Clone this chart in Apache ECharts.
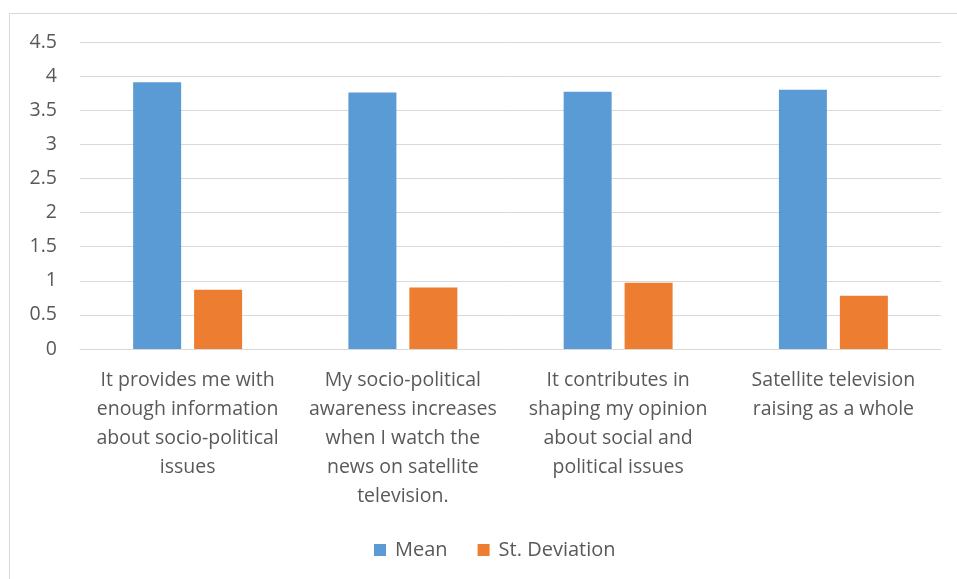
<!DOCTYPE html>
<html>
<head>
<meta charset="utf-8">
<script src="https://cdn.jsdelivr.net/npm/echarts@6/dist/echarts.min.js"></script>
<style>
  html, body { margin: 0; padding: 0; background: #ffffff; }
  #chart { width: 957px; height: 579px; }
</style>
</head>
<body>
<div id="chart"></div>
<script>
// Survey statements (line breaks as they wrap under each group)
const categories = [
  'It provides me with\nenough information\nabout socio-political\nissues',
  'My socio-political\nawareness increases\nwhen I watch the\nnews on satellite\ntelevision.',
  'It contributes in\nshaping my opinion\nabout social and\npolitical issues',
  'Satellite television\nraising as a whole'
];
const meanValues = [3.91, 3.76, 3.77, 3.80];
const stdValues = [0.87, 0.90, 0.97, 0.78];
const seriesNames = ['Mean', 'St. Deviation'];

const FONT = '"Open Sans", "Noto Sans", sans-serif';
const TEXT = '#595959';

const chart = echarts.init(document.getElementById('chart'), null, { renderer: 'canvas' });
chart.setOption({
  animation: false,
  backgroundColor: '#ffffff',
  graphic: [{
    type: 'rect',
    shape: { x: 9.5, y: 13.5, width: 1000, height: 1000 },
    style: { fill: 'none', stroke: '#d9d9d9', lineWidth: 1 },
    silent: true,
    z: -1
  }],
  grid: { left: 80, right: 16, top: 42, bottom: 230, containLabel: false },
  legend: {
    bottom: 14,
    left: 369,
    itemWidth: 12,
    itemHeight: 12,
    itemGap: 30,
    icon: 'rect',
    textStyle: { color: TEXT, fontSize: 20, fontFamily: FONT, padding: [0, 0, 0, 4] },
    data: seriesNames
  },
  xAxis: {
    type: 'category',
    data: categories,
    axisLine: { show: true, lineStyle: { color: '#d9d9d9', width: 1 } },
    axisTick: { show: false },
    axisLabel: {
      interval: 0,
      margin: 17,
      color: TEXT,
      fontSize: 19.5,
      lineHeight: 29,
      fontFamily: FONT,
      align: 'center'
    }
  },
  yAxis: {
    type: 'value',
    min: 0,
    max: 4.5,
    interval: 0.5,
    axisLine: { show: false },
    axisTick: { show: false },
    splitLine: { lineStyle: { color: '#d9d9d9', width: 1 } },
    axisLabel: { color: TEXT, fontSize: 19.5, fontFamily: FONT, margin: 23 }
  },
  series: [
    {
      name: seriesNames[0],
      type: 'bar',
      data: meanValues,
      barWidth: '22.3%',
      barGap: '27%',
      itemStyle: { color: '#5b9bd5' }
    },
    {
      name: seriesNames[1],
      type: 'bar',
      data: stdValues,
      barWidth: '22.3%',
      barGap: '27%',
      itemStyle: { color: '#ed7d31' }
    }
  ]
});
</script>
</body>
</html>
